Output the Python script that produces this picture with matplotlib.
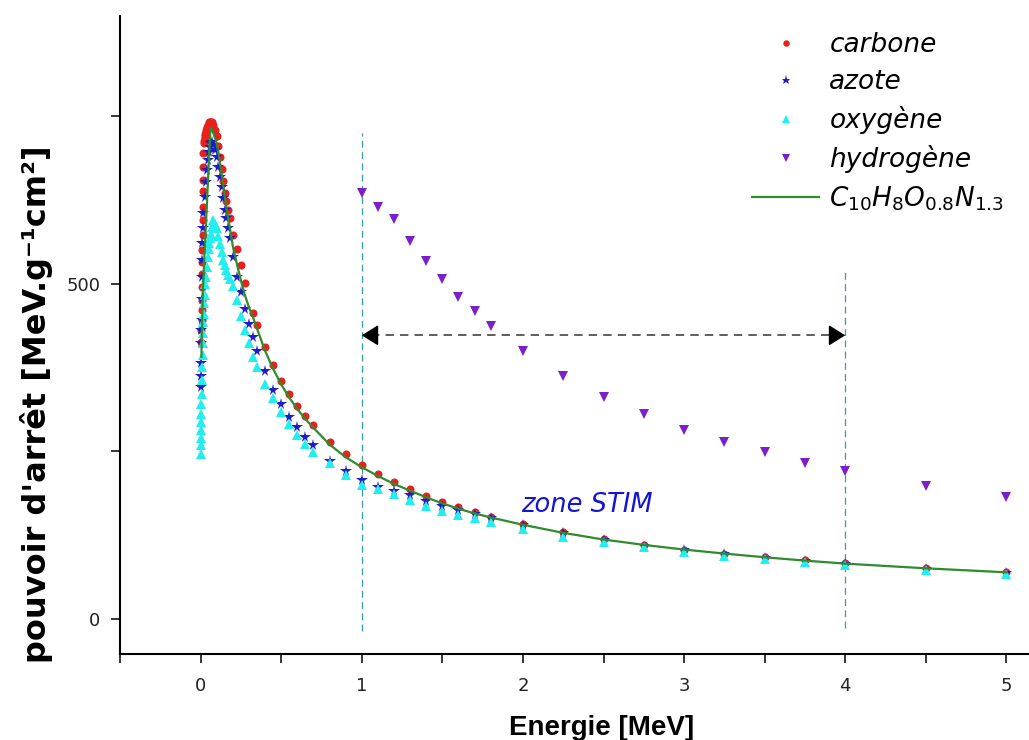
import matplotlib
matplotlib.use('Agg')
import matplotlib.pyplot as plt
import numpy as np

# ---------------- data (MeV, MeV.g-1.cm2) ----------------
carbon_E = [0.005, 0.0055, 0.006, 0.0065, 0.007, 0.008, 0.009, 0.010, 0.011, 0.012,
            0.013, 0.014, 0.015, 0.016, 0.017, 0.018, 0.020, 0.0225, 0.025, 0.0275,
            0.030, 0.0325, 0.035, 0.0375, 0.040, 0.045, 0.050, 0.055, 0.060, 0.065,
            0.070, 0.080, 0.090, 0.100, 0.110, 0.120, 0.130, 0.140, 0.150, 0.160,
            0.170, 0.180, 0.200, 0.225, 0.250, 0.275, 0.325, 0.350, 0.400, 0.450,
            0.500, 0.550, 0.600, 0.650, 0.700, 0.800, 0.900, 1.0, 1.1, 1.2,
            1.3, 1.4, 1.5, 1.6, 1.7, 1.8, 2.0, 2.25, 2.5, 2.75,
            3.0, 3.25, 3.5, 3.75, 4.0, 4.5, 5.0]
carbon_S = [413, 431, 446, 461, 476, 495, 515, 533, 550, 573,
            595, 615, 638, 655, 675, 695, 710, 714, 718, 721,
            724, 727, 730, 732, 734, 737, 739, 741, 742, 742,
            741, 737, 730, 721, 706, 690, 671, 653, 636, 623,
            610, 598, 573, 552, 528, 501, 457, 438, 406, 378,
            355, 335, 317, 302, 289, 264, 245, 229, 216, 204,
            193, 183, 174, 166, 159, 152, 141, 129, 119, 110,
            103, 97, 92, 87, 83, 75, 69]

nitrogen_E = [0.002, 0.0025, 0.003, 0.004, 0.005, 0.006, 0.007, 0.008, 0.009, 0.011,
              0.014, 0.018, 0.025, 0.0325, 0.040, 0.045, 0.050, 0.060, 0.065, 0.070,
              0.080, 0.090, 0.100, 0.110, 0.120, 0.130, 0.140, 0.150, 0.160, 0.170,
              0.180, 0.200, 0.225, 0.250, 0.275, 0.300, 0.325, 0.350, 0.400, 0.450,
              0.500, 0.550, 0.600, 0.650, 0.700, 0.800, 0.900, 1.0, 1.1, 1.2,
              1.3, 1.4, 1.5, 1.6, 1.7, 1.8, 2.0, 2.25, 2.5, 2.75,
              3.0, 3.25, 3.5, 3.75, 4.0, 4.5, 5.0]
nitrogen_S = [346, 363, 381, 411, 431, 446, 478, 510, 535, 561,
              583, 605, 630, 652, 670, 685, 697, 705, 710, 712,
              708, 700, 690, 675, 660, 645, 628, 610, 598, 583,
              568, 540, 510, 487, 462, 440, 420, 399, 369, 342,
              320, 301, 286, 271, 259, 236, 220, 207, 197, 190,
              185, 176, 168, 162, 156, 150, 140, 128, 118, 109,
              102, 96, 91, 86, 82, 74, 68]

oxygen_E = [0.001, 0.0015, 0.002, 0.0025, 0.003, 0.004, 0.005, 0.006, 0.008, 0.010,
            0.012, 0.014, 0.016, 0.018, 0.020, 0.0225, 0.025, 0.030, 0.035, 0.040,
            0.045, 0.050, 0.055, 0.060, 0.065, 0.070, 0.080, 0.090, 0.100,
            0.110, 0.120, 0.130, 0.140, 0.150, 0.160, 0.170, 0.180, 0.200, 0.225,
            0.250, 0.275, 0.300, 0.325, 0.350, 0.400, 0.450, 0.500, 0.550, 0.600,
            0.650, 0.700, 0.800, 0.900, 1.0, 1.1, 1.2, 1.3, 1.4, 1.5,
            1.6, 1.7, 1.8, 2.0, 2.25, 2.5, 2.75, 3.0, 3.25, 3.5,
            3.75, 4.0, 4.5, 5.0]
oxygen_S = [246, 259, 269, 281, 294, 306, 321, 336, 356, 376,
            393, 411, 426, 443, 455, 471, 483, 500, 510, 525,
            540, 552, 561, 568, 575, 585, 595, 590, 583,
            572, 560, 548, 536, 528, 520, 513, 507, 497, 476,
            452, 431, 411, 391, 376, 351, 329, 308, 290, 274,
            260, 249, 232, 214, 200, 193, 186, 177, 168, 161,
            155, 150, 144, 134, 122, 115, 107, 100, 94, 89,
            84, 80, 72, 66]

hydrogen_E = [1.0, 1.1, 1.2, 1.3, 1.4, 1.5, 1.6, 1.7, 1.8, 2.0,
              2.25, 2.5, 2.75, 3.0, 3.25, 3.5, 3.75, 4.0, 4.5, 5.0]
hydrogen_S = [636, 615, 597, 564, 534, 507, 481, 459, 437, 400,
              363, 331, 305, 282, 264, 248, 233, 221, 198.5, 181]

compound_E = [0.005, 0.008, 0.010, 0.014, 0.020, 0.025, 0.030, 0.035, 0.040, 0.045,
              0.050, 0.055, 0.060, 0.065, 0.070, 0.080, 0.090, 0.100, 0.110, 0.120,
              0.130, 0.140, 0.150, 0.160, 0.170, 0.180, 0.200, 0.225, 0.250, 0.275,
              0.300, 0.325, 0.350, 0.400, 0.450, 0.500, 0.550, 0.600, 0.650, 0.700,
              0.800, 0.900, 1.0, 1.1, 1.2, 1.3, 1.4, 1.5, 1.6, 1.7,
              1.8, 2.0, 2.25, 2.5, 2.75, 3.0, 3.25, 3.5, 3.75, 4.0,
              4.5, 5.0]
compound_S = [391, 425, 447, 490, 522, 548, 573, 598, 623, 650,
              676, 703, 725, 732, 731, 725, 718, 710, 697, 682,
              666, 648, 630, 614, 599, 586, 556, 530, 505, 483,
              465, 450, 433, 400, 373, 350, 330, 313, 298, 285,
              260, 241, 226, 213, 201, 191, 181, 172, 164, 157,
              151, 140, 128, 118, 110, 103, 97, 91.5, 86.5, 82,
              75, 69]

labels = ['carbone', 'azote', 'oxygène', 'hydrogène',
          r'$\mathit{C}_{\mathit{10}}\mathit{H}_{\mathit{8}}\mathit{O}_{\mathit{0.8}}\mathit{N}_{\mathit{1.3}}$']

zone_E = [1.0, 4.0]          # STIM zone limits
zone_top = [725, 523]
zone_bottom = [-18, -14]
arrow_S = 423
zone_text = 'zone STIM'
zone_text_pos = (1.99, 158.5)

x_major = [0, 1, 2, 3, 4, 5]
x_minor = [-0.5, 0.5, 1.5, 2.5, 3.5, 4.5]
y_major = [0, 500]
y_minor = [250, 750]

# ---------------- figure ----------------
fig = plt.figure(figsize=(10.29, 7.40), dpi=100)
ax = fig.add_axes([120 / 1029, 1 - 654 / 740, 1 - 120 / 1029, (654 - 16) / 740])

ax.plot(carbon_E, carbon_S, 'o', ls='none', color='#e8211c', ms=5.8, mew=0,
        label=labels[0], zorder=3)
ax.plot(nitrogen_E, nitrogen_S, '*', ls='none', color='#1c1cc8', ms=8.5, mew=0,
        label=labels[1], zorder=4)
ax.plot(oxygen_E, oxygen_S, '^', ls='none', color='#22eeee', ms=7, mew=0,
        label=labels[2], zorder=5)
ax.plot(hydrogen_E, hydrogen_S, 'v', ls='none', color='#7b1fc8', ms=7.5, mew=0,
        label=labels[3], zorder=5)
ax.plot(compound_E, compound_S, '-', color='#2e8b2e', lw=1.6,
        label=labels[4], zorder=6)

# STIM zone vertical dashed lines
for xe, yt, yb in zip(zone_E, zone_top, zone_bottom):
    ax.plot([xe, xe], [yb, yt], color='#2f9f9f', lw=0.9, ls=(0, (5.5, 3.5)), zorder=2)

# double arrow
ax.plot([zone_E[0] + 0.06, zone_E[1] - 0.06], [arrow_S, arrow_S], color='#333333',
        lw=1.1, ls=(0, (5.5, 4)), zorder=2)
for tip, start in ((zone_E[0], zone_E[0] + 0.065), (zone_E[1], zone_E[1] - 0.065)):
    ax.annotate('', xy=(tip, arrow_S), xytext=(start, arrow_S),
                arrowprops=dict(arrowstyle='-|>,head_length=0.8,head_width=0.5',
                                color='black', lw=1, shrinkA=0, shrinkB=0,
                                mutation_scale=13), zorder=3)

ax.text(zone_text_pos[0], zone_text_pos[1], zone_text, color='#1414d2',
        fontsize=18.5, style='italic', ha='left', va='baseline')

ax.set_xlim(-0.5, 5.14)
ax.set_ylim(-53, 900)
ax.set_xticks(x_major)
ax.set_xticks(x_minor, minor=True)
ax.set_yticks(y_major)
ax.set_yticks(y_minor, minor=True)
ax.tick_params(axis='both', which='both', direction='out', length=6.3, width=1.1,
               labelsize=13, colors='black')
ax.tick_params(axis='x', which='both', pad=10.5)
ax.tick_params(axis='y', which='both', pad=8)
for lab in ax.get_xticklabels() + ax.get_yticklabels():
    lab.set_color('#222222')

for s in ('top', 'right'):
    ax.spines[s].set_visible(False)
for s in ('left', 'bottom'):
    ax.spines[s].set_linewidth(1.5)

ax.set_xlabel('Energie [MeV]', fontsize=20, fontweight='bold', family='Liberation Sans')
ax.xaxis.set_label_coords((602 - 120) / 909, (654 - 735) / 638)
ax.xaxis.label.set_va('baseline')

ax.set_ylabel("pouvoir d'arrêt [MeV.g⁻¹cm²]", fontsize=23, fontweight='bold')
ax.yaxis.set_label_coords((37 - 120) / 909, (654 - 404) / 638)
ax.yaxis.label.set_va('center')

leg = ax.legend(loc='upper left', bbox_to_anchor=(752 / 1029, 1 - 32 / 740),
                bbox_transform=fig.transFigure, frameon=False, borderaxespad=0,
                borderpad=0, handlelength=2.55, handletextpad=0.38, labelspacing=0.42,
                prop={'size': 19, 'style': 'italic'}, markerscale=0.8)

fig.savefig('out.png', dpi=100)
